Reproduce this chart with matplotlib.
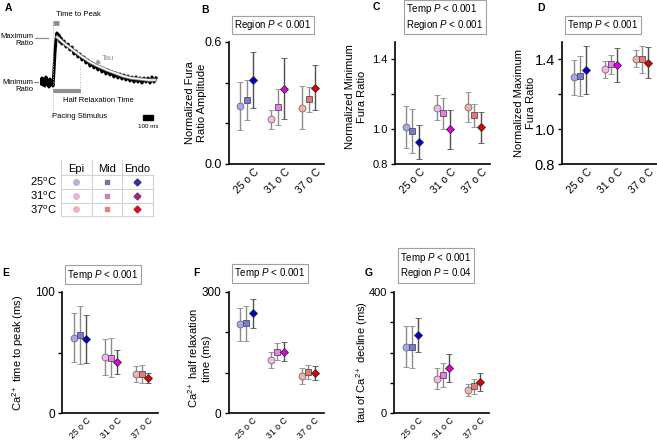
import numpy as np
import matplotlib.pyplot as plt

plt.rcParams['font.family'] = ['Liberation Sans', 'DejaVu Sans']
plt.rcParams['mathtext.fontset'] = 'custom'
plt.rcParams['mathtext.rm'] = 'Liberation Sans'
plt.rcParams['mathtext.it'] = 'Liberation Sans:italic'
plt.rcParams['mathtext.bf'] = 'Liberation Sans:bold'

temps = ['25 o C', '31 o C', '37 o C']
regions = ['Epi', 'Mid', 'Endo']
temp_rows = ['25$^\\mathrm{o}$C', '31$^\\mathrm{o}$C', '37$^\\mathrm{o}$C']

# B: normalized fura ratio amplitude
amp_epi = [0.285, 0.22, 0.277]
amp_mid = [0.315, 0.28, 0.318]
amp_endo = [0.413, 0.37, 0.375]
amp_epi_err = [0.12, 0.047, 0.105]
amp_mid_err = [0.10, 0.09, 0.06]
amp_endo_err = [0.14, 0.15, 0.11]

# C: normalized minimum fura ratio
min_epi = [1.013, 1.124, 1.126]
min_mid = [0.989, 1.091, 1.08]
min_endo = [0.926, 0.998, 1.01]
min_epi_err = [0.12, 0.072, 0.087]
min_mid_err = [0.127, 0.09, 0.065]
min_endo_err = [0.10, 0.112, 0.088]

# D: normalized maximum fura ratio
max_epi = [1.297, 1.343, 1.404]
max_mid = [1.305, 1.371, 1.40]
max_endo = [1.339, 1.37, 1.381]
max_epi_err = [0.10, 0.05, 0.048]
max_mid_err = [0.113, 0.056, 0.076]
max_endo_err = [0.137, 0.097, 0.088]

# E: time to peak (ms)
ttp_epi = [62.2, 46.3, 32.1]
ttp_mid = [64.4, 45.7, 32.1]
ttp_endo = [61.1, 42.4, 28.8]
ttp_epi_err = [20, 15, 6.5]
ttp_mid_err = [23.5, 16, 7.5]
ttp_endo_err = [20, 10, 4]

# F: half relaxation time (ms)
half_epi = [220, 132, 92]
half_mid = [222, 152, 102]
half_endo = [247, 152, 100]
half_epi_err = [41, 20, 20]
half_mid_err = [43, 21, 18]
half_endo_err = [36, 23, 17.6]

# G: tau of decline (ms)
tau_epi = [219, 114, 77]
tau_mid = [218, 127, 89]
tau_endo = [258, 150, 103]
tau_epi_err = [68, 34, 19]
tau_mid_err = [70, 40, 25]
tau_endo_err = [55, 46, 28.6]

# A: example transient (ms, ratio a.u.)
trace_t = [0, 10, 20, 30, 40, 50, 60, 70, 80, 90, 100, 110, 120, 130,
           140, 150, 160, 170, 180, 190, 200, 210, 220,
           240, 260, 280, 300, 320, 340, 360, 380, 400, 420, 440, 460, 480,
           500, 520, 540, 560, 580, 600, 620, 640, 660, 680, 700, 720, 740,
           760, 780, 800, 820, 840, 860, 880, 900, 920, 940, 960, 980, 1000,
           1020, 1040, 1060, 1080, 1100, 1120, 1140, 1160]
trace_y = [2, -2, 4, -3, 3, -4, 5, -1, 2, -5, 3, -2, 0, -4,
           12, 30, 42, 49, 44, 47, 40, 44, 38,
           41, 35, 38, 32, 35, 28, 31, 25, 28, 22, 25, 19, 22, 16, 19, 14,
           17, 12, 15, 10, 13, 8, 12, 7, 10, 5, 9, 4, 8, 3, 7, 2, 6, 1, 5,
           0, 5, 0, 4, -1, 4, 0, 4, -1, 5, 0, 4]
fit_t = [170, 250, 330, 410, 500, 580, 670, 750, 830, 910, 1000, 1080, 1150]
fit_y = [45, 38, 32, 26, 20, 16, 12, 9, 6, 4, 3, 2, 2]

epi_cols = ['#a6a8ec', '#f8b4ec', '#f4b0ac']
mid_cols = ['#7878e0', '#f078f0', '#e87878']
endo_cols = ['#0000cc', '#e000e0', '#e00000']
tab_epi = ['#b4b4d4', '#e4b4d4', '#ecb4bc']
tab_mid = ['#7474a4', '#c484b4', '#e08484']
tab_endo = ['#303488', '#8c3080', '#c41828']

fig = plt.figure(figsize=(6.57, 4.44), dpi=100)

# ---- panel A trace
axA = fig.add_axes([40/657, 1-125/444, 120/657, 115/444])
axA.set_xlim(0, 1200)
axA.set_ylim(-43, 72)
axA.axis('off')
axA.plot(trace_t, trace_y, color='black', lw=2.2)
axA.plot(fit_t, fit_y, color='#808080', lw=2.4)
axA.plot(fit_t, fit_y, color='white', lw=1.1)
axA.plot([130, 190], [59, 59], color='#909090', lw=3.5, solid_capstyle='butt')
axA.plot([130, 410], [-9, -9], color='#909090', lw=3, solid_capstyle='butt')
axA.plot([130, 130], [60, -35], color='#b0b0b0', lw=0.7, ls=':')
axA.plot([400, 400], [16, -8], color='#b0b0b0', lw=0.7, ls=':')
axA.plot([-50, 80], [44, 44], color='#909090', lw=0.9, clip_on=False)
axA.plot([-65, -25], [0, 0], color='#909090', lw=0.9, clip_on=False)
axA.text(160, 67, 'Time to Peak', fontsize=5.5, va='center')
axA.text(-65, 42, 'Maximum\nRatio', fontsize=5.5, ha='right', va='center', linespacing=1.1)
axA.text(-70, -4, 'Minimum\nRatio', fontsize=5.5, ha='right', va='center', linespacing=1.1)
axA.text(230, -19, 'Half Relaxation Time', fontsize=5.5, va='center')
axA.text(120, -35, 'Pacing Stimulus', fontsize=5.5, va='center')
axA.text(620, 24, 'Tau', fontsize=5.5, va='center', color='#909090')
axA.annotate('', xy=(530, 15), xytext=(605, 22),
             arrowprops=dict(arrowstyle='-|>', color='#a0a0a0', lw=1.2, mutation_scale=6))
axA.add_patch(plt.Rectangle((1030, -38), 100, 5, color='black', clip_on=False))
axA.text(1080, -44, '100 ms', fontsize=4.5, ha='center', va='center')
fig.text(8/657, 1-8/444, 'A', fontsize=7.5, fontweight='bold', ha='center', va='center')

# ---- legend table
axT = fig.add_axes([30/657, 1-220/444, 130/657, 62/444])
axT.set_xlim(-0.525, 3.74)
axT.set_ylim(3.77, -0.77)
axT.axis('off')
gc = '#d4d4d4'
for j in [0.5, 1.5, 2.5, 3.5]:
    axT.plot([0.5, 3.5], [j, j], color=gc, lw=0.8)
for i in [0.5, 1.5, 2.5]:
    axT.plot([i, i], [-0.6, 3.5], color=gc, lw=0.8)
axT.plot([3.5, 3.5], [0.5, 3.5], color=gc, lw=0.8)
for i, name in enumerate(regions):
    axT.text(i+1, 0, name, fontsize=8, ha='center', va='center')
for j, name in enumerate(temp_rows):
    axT.text(0.35, j+1, name, fontsize=8, ha='right', va='center')
    axT.plot(1, j+1, 'o', ms=4, color=tab_epi[j])
    axT.plot(2, j+1, 's', ms=3.5, color=tab_mid[j])
    axT.plot(3, j+1, 'D', ms=3.5, color=tab_endo[j])

# ---- scatter panels
def draw_panel(ax, epi, mid, endo, epi_err, mid_err, endo_err, xsize):
    sets = [(epi, epi_err, 'o', 5, epi_cols, '#8c8c8c', '#707070', -0.2),
            (mid, mid_err, 's', 4.3, mid_cols, '#8c8c8c', '#505050', 0.0),
            (endo, endo_err, 'D', 4.3, endo_cols, '#505050', '#303030', 0.2)]
    for vals, errs, mk, ms, cols, ecol, edge, off in sets:
        for i in range(3):
            ax.errorbar(i+1+off, vals[i], yerr=errs[i], fmt=mk, ms=ms,
                        mfc=cols[i], mec=edge, mew=0.6, ecolor=ecol,
                        elinewidth=1.0, capsize=2.5, capthick=1.0)
    ax.set_xlim(0.42, 3.5)
    ax.set_xticks([1, 2, 3])
    ax.set_xticklabels(temps)
    for s in ['top', 'right']:
        ax.spines[s].set_visible(False)
    for s in ['left', 'bottom']:
        ax.spines[s].set_linewidth(1.2)
    ax.tick_params(axis='x', length=0, labelsize=xsize, labelrotation=45, pad=2)
    ax.tick_params(axis='y', direction='out', length=3, width=1, pad=2)

w = 95.5/657
h_top = 122/444
h_bot = 121.6/444
b_top = 1-164/444
b_bot = 1-413.3/444

axB = fig.add_axes([228.7/657, b_top, w, h_top])
draw_panel(axB, amp_epi, amp_mid, amp_endo, amp_epi_err, amp_mid_err, amp_endo_err, 7.5)
axB.set_ylim(0, 0.6)
axB.set_yticks([0, 0.2, 0.4, 0.6])
axB.set_yticklabels(['0.0', '', '', '0.6'])
axB.tick_params(axis='y', labelsize=9)
axB.set_ylabel('Normalized Fura\nRatio Amplitude', fontsize=8)
axB.yaxis.set_label_coords(-0.227, 0.5)

axC = fig.add_axes([394.5/657, b_top, w, h_top])
draw_panel(axC, min_epi, min_mid, min_endo, min_epi_err, min_mid_err, min_endo_err, 7.5)
axC.set_ylim(0.8, 1.5)
axC.set_yticks([0.8, 1.0, 1.2, 1.4])
axC.set_yticklabels(['0.8', '1.0', '', '1.4'])
axC.tick_params(axis='y', labelsize=8)
axC.set_ylabel('Normalized Minimum\nFura Ratio', fontsize=8)
axC.yaxis.set_label_coords(-0.288, 0.55)

axD = fig.add_axes([562/657, b_top, w, h_top])
draw_panel(axD, max_epi, max_mid, max_endo, max_epi_err, max_mid_err, max_endo_err, 7.5)
axD.set_ylim(0.8, 1.5)
axD.set_yticks([0.8, 1.0, 1.2, 1.4])
axD.set_yticklabels(['0.8', '1.0', '', '1.4'])
axD.tick_params(axis='y', labelsize=10.5)
axD.set_ylabel('Normalized Maximum\nFura Ratio', fontsize=8)
axD.yaxis.set_label_coords(-0.272, 0.5)

axE = fig.add_axes([62/657, b_bot, w, h_bot])
draw_panel(axE, ttp_epi, ttp_mid, ttp_endo, ttp_epi_err, ttp_mid_err, ttp_endo_err, 6.3)
axE.set_ylim(0, 100)
axE.set_yticks([0, 50, 100])
axE.set_yticklabels(['0', '', '100'])
axE.tick_params(axis='y', labelsize=8.5)
axE.set_ylabel('Ca$^{2+}$ time to peak (ms)', fontsize=8)
axE.yaxis.set_label_coords(-0.377, 0.5)

axF = fig.add_axes([228.5/657, b_bot, w, h_bot])
draw_panel(axF, half_epi, half_mid, half_endo, half_epi_err, half_mid_err, half_endo_err, 6.3)
axF.set_ylim(0, 300)
axF.set_yticks([0, 100, 200, 300])
axF.set_yticklabels(['0', '', '', '300'])
axF.tick_params(axis='y', labelsize=8.5)
axF.set_ylabel('Ca$^{2+}$ half relaxation\ntime (ms)', fontsize=8)
axF.yaxis.set_label_coords(-0.173, 0.45)

axG = fig.add_axes([394/657, b_bot, w, h_bot])
draw_panel(axG, tau_epi, tau_mid, tau_endo, tau_epi_err, tau_mid_err, tau_endo_err, 6.3)
axG.set_ylim(0, 400)
axG.set_yticks([0, 100, 200, 300, 400])
axG.set_yticklabels(['0', '', '', '', '400'])
axG.tick_params(axis='y', labelsize=8)
axG.set_ylabel('tau of Ca$^{2+}$ decline (ms)', fontsize=8)
axG.yaxis.set_label_coords(-0.251, 0.42)

# ---- panel letters and stats boxes
letters = [('B', 205, 10), ('C', 376, 7), ('D', 541, 8),
           ('E', 6, 273), ('F', 196, 273), ('G', 369, 273)]
for lab, px, py in letters:
    fig.text(px/657, 1-py/444, lab, fontsize=7.5, fontweight='bold', ha='center', va='center')

box = dict(boxstyle='square,pad=0.25', fc='white', ec='#a0a0a0', lw=0.8)
stats = [('Region $P$ < 0.001', 273, 25),
         ('Temp $P$ < 0.001\nRegion $P$ < 0.001', 445, 17),
         ('Temp $P$ < 0.001', 603, 25),
         ('Temp $P$ < 0.001', 103, 274.5),
         ('Temp $P$ < 0.001', 270, 273.5),
         ('Temp $P$ < 0.001\nRegion $P$ = 0.04', 436, 265.5)]
for txt, px, py in stats:
    fig.text(px/657, 1-py/444, txt, fontsize=7, ha='center', va='center',
             multialignment='left', bbox=box, linespacing=1.15)

fig.savefig('out.png', dpi=100)
